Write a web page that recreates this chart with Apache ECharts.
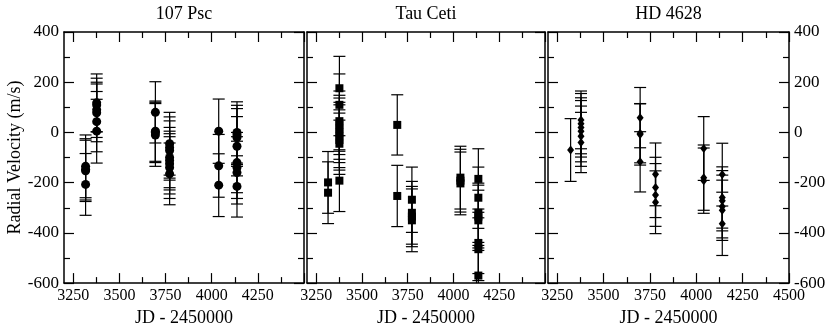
<!DOCTYPE html>
<html>
<head>
<meta charset="utf-8">
<script src="https://cdn.jsdelivr.net/npm/echarts@6/dist/echarts.min.js"></script>
<style>
  html, body { margin: 0; padding: 0; background: #fff; }
  #main { width: 830px; height: 332px; }
</style>
</head>
<body>
<div id="main"></div>
<script>
// panel titles
var stars = ['107 Psc', 'Tau Ceti', 'HD 4628'];

// x ticks (JD - 2450000)
var majorX = [3250, 3500, 3750, 4000, 4250, 4500];
var minorX = [3375, 3625, 3875, 4125, 4375];

// 107 Psc : JD - 2450000, radial velocity (m/s), error (m/s)
var pscJD = [3317, 3317, 3317, 3317,
  3377, 3377, 3377, 3377, 3377, 3377,
  3695, 3695, 3695, 3695,
  3772, 3772, 3772, 3772, 3772, 3772, 3772, 3772,
  4038, 4038, 4038,
  4137, 4137, 4137, 4137, 4137, 4137, 4137, 4137];
var pscRV = [-135, -147, -153, -207,
  118, 109, 90, 78, 43, 5,
  80, 5, 0, -10,
  -45, -60, -72, -100, -112, -125, -140, -165,
  5, -133, -210,
  0, -10, -20, -55, -120, -140, -160, -215];
var pscErr = [125, 122, 122, 123,
  115, 107, 110, 115, 120, 127,
  122, 120, 120, 125,
  125, 122, 118, 120, 117, 120, 123, 123,
  128, 125, 125,
  122, 118, 115, 118, 120, 123, 125, 122];

// Tau Ceti
var tauJD = [3315, 3315,
  3377, 3377, 3377, 3377, 3377, 3377, 3377, 3377, 3377, 3377,
  3693, 3693,
  3773, 3773, 3773, 3773,
  4038, 4038, 4038,
  4136, 4136, 4136, 4136, 4136, 4136, 4136, 4136];
var tauRV = [-199, -240,
  176, 110, 45, 30, 15, 0, -15, -30, -45, -192,
  30, -253,
  -268, -320, -335, -350,
  -180, -192, -203,
  -185, -260, -320, -335, -350, -440, -465, -570];
var tauErr = [123, 123,
  127, 123, 120, 118, 122, 120, 125, 120, 122, 123,
  120, 122,
  130, 125, 120, 125,
  125, 125, 125,
  120, 122, 118, 125, 120, 122, 125, 120];

// HD 4628
var hdJD = [3322,
  3378, 3378, 3378, 3378, 3378, 3378,
  3697, 3697, 3697, 3697,
  3780, 3780, 3780, 3780,
  4040, 4040, 4040,
  4140, 4140, 4140, 4140, 4140, 4140];
var hdRV = [-70,
  50, 35, 20, 5, -15, -40,
  59, -3, -8, -117,
  -167, -219, -249, -278,
  -64, -180, -192,
  -168, -259, -272, -295, -310, -364];
var hdErr = [125,
  115, 120, 118, 122, 120, 120,
  120, 118, 122, 120,
  125, 120, 125, 125,
  127, 130, 130,
  125, 122, 120, 125, 120, 126];

var panels = [
  { jd: pscJD, rv: pscRV, err: pscErr, symbol: 'circle', size: 9 },
  { jd: tauJD, rv: tauRV, err: tauErr, symbol: 'rect', size: 8 },
  { jd: hdJD, rv: hdRV, err: hdErr, symbol: 'diamond', size: [7, 9] }
];

var font = '"Liberation Serif", "Times New Roman", serif';
var gridLefts = [64, 307, 548];
var gridWidths = [240, 238, 241];

var chart = echarts.init(document.getElementById('main'));

function plain(v) { return String(v); }

function xAxisFor(i, pos, major, withLabels) {
  return {
    type: 'value', gridIndex: i, position: pos, min: 3200, max: 4500,
    axisLine: { show: major, onZero: false, lineStyle: { color: '#000', width: 1.5 } },
    axisTick: { show: true, inside: true, length: major ? 10 : 6,
      customValues: major ? majorX : minorX, lineStyle: { color: '#000', width: 1.2 } },
    axisLabel: { show: withLabels, customValues: i < 2 ? majorX.slice(0, 5) : majorX,
      formatter: plain, color: '#000', fontFamily: font, fontSize: 16, margin: 5 },
    splitLine: { show: false },
    name: major ? (pos === 'bottom' ? 'JD - 2450000' : stars[i]) : '',
    nameLocation: 'middle',
    nameGap: pos === 'bottom' ? 25 : 9,
    nameTextStyle: { color: '#000', fontFamily: font, fontSize: 18 }
  };
}

function yAxisFor(i, pos, withLabels) {
  return {
    type: 'value', gridIndex: i, position: pos, min: -600, max: 400, interval: 200,
    axisLine: { show: true, onZero: false, lineStyle: { color: '#000', width: 1.5 } },
    axisTick: { show: true, inside: true, length: 10, lineStyle: { color: '#000', width: 1.2 } },
    minorTick: { show: true, splitNumber: 2, length: 6, lineStyle: { color: '#000', width: 1.2 } },
    axisLabel: { show: withLabels, formatter: plain, color: '#000', fontFamily: font,
      fontSize: 17, margin: 5 },
    splitLine: { show: false },
    name: (i === 0 && pos === 'left') ? 'Radial Velocity (m/s)' : '',
    nameLocation: 'middle',
    nameGap: 38,
    nameTextStyle: { color: '#000', fontFamily: font, fontSize: 18 }
  };
}

function renderErrorBar(params, api) {
  var x = api.value(0), y = api.value(1), e = api.value(2);
  var hi = api.coord([x, y + e]);
  var lo = api.coord([x, y - e]);
  var w = 6;
  var style = { stroke: '#000', lineWidth: 1.2 };
  return {
    type: 'group',
    children: [
      { type: 'line', shape: { x1: hi[0], y1: hi[1], x2: lo[0], y2: lo[1] }, style: style },
      { type: 'line', shape: { x1: hi[0] - w, y1: hi[1], x2: hi[0] + w, y2: hi[1] }, style: style },
      { type: 'line', shape: { x1: lo[0] - w, y1: lo[1], x2: lo[0] + w, y2: lo[1] }, style: style }
    ]
  };
}

var grids = [], xAxes = [], yAxes = [], series = [];
panels.forEach(function (p, i) {
  grids.push({ left: gridLefts[i], top: 29, width: gridWidths[i], height: 264 });
  xAxes.push(xAxisFor(i, 'bottom', true, true));
  xAxes.push(xAxisFor(i, 'top', true, false));
  xAxes.push(xAxisFor(i, 'bottom', false, false));
  xAxes.push(xAxisFor(i, 'top', false, false));
  yAxes.push(yAxisFor(i, 'left', i === 0));
  yAxes.push(yAxisFor(i, 'right', i === 2));

  var data = p.jd.map(function (t, k) { return [t, p.rv[k], p.err[k]]; });
  series.push({
    type: 'custom', xAxisIndex: 4 * i, yAxisIndex: 2 * i,
    renderItem: renderErrorBar, clip: true,
    encode: { x: 0, y: 1 },
    data: data, z: 2, silent: true
  });
  series.push({
    type: 'scatter', xAxisIndex: 4 * i, yAxisIndex: 2 * i,
    symbol: p.symbol, symbolSize: p.size,
    itemStyle: { color: '#000', opacity: 1 },
    data: data.map(function (d) { return [d[0], d[1]]; }),
    z: 3, silent: true
  });
});

var option = {
  animation: false,
  backgroundColor: '#fff',
  grid: grids,
  xAxis: xAxes,
  yAxis: yAxes,
  series: series
};

chart.setOption(option);
</script>
</body>
</html>
